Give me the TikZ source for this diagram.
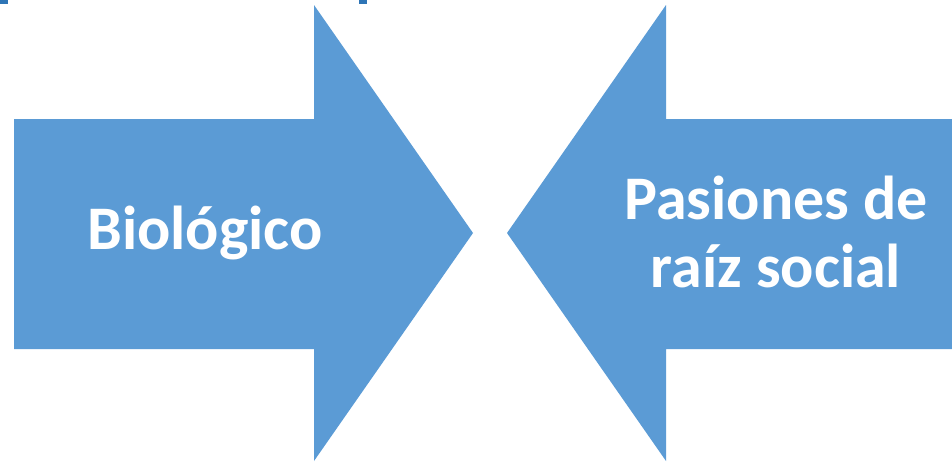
\documentclass[tikz,border=0pt]{standalone}
\usepackage{fontspec}
\setmainfont{Carlito}
\definecolor{arrowblue}{HTML}{5B9BD5}
\definecolor{titleblue}{HTML}{2E75B6}
\begin{document}
\begin{tikzpicture}[x=1pt, y=-1pt,
    arrow shape/.style={fill=arrowblue, draw=none},
    arrow label/.style={text=white, font=\fontsize{62}{68}\selectfont\bfseries, align=center, inner sep=0pt}]
  \useasboundingbox (0,0) rectangle (952,461);
  % cut-off title pieces at the top
  \fill [titleblue] (0,0) rectangle (8,4);
  \fill [titleblue] (359,0) rectangle (367,4);
  % arrow from the left
  \fill [arrow shape] (14,119) -- (314,119) -- (314,5) -- (473,233)
    -- (314,461) -- (314,349) -- (14,349) -- cycle;
  % arrow from the right
  \fill [arrow shape] (952,119) -- (666,119) -- (666,5) -- (507,233)
    -- (666,461) -- (666,349) -- (952,349) -- cycle;
  \node [arrow label] (bio) at (205,233) {Biológico};
  \node [arrow label] (social) at (776,232) {Pasiones de\\raíz social};
\end{tikzpicture}
\end{document}
